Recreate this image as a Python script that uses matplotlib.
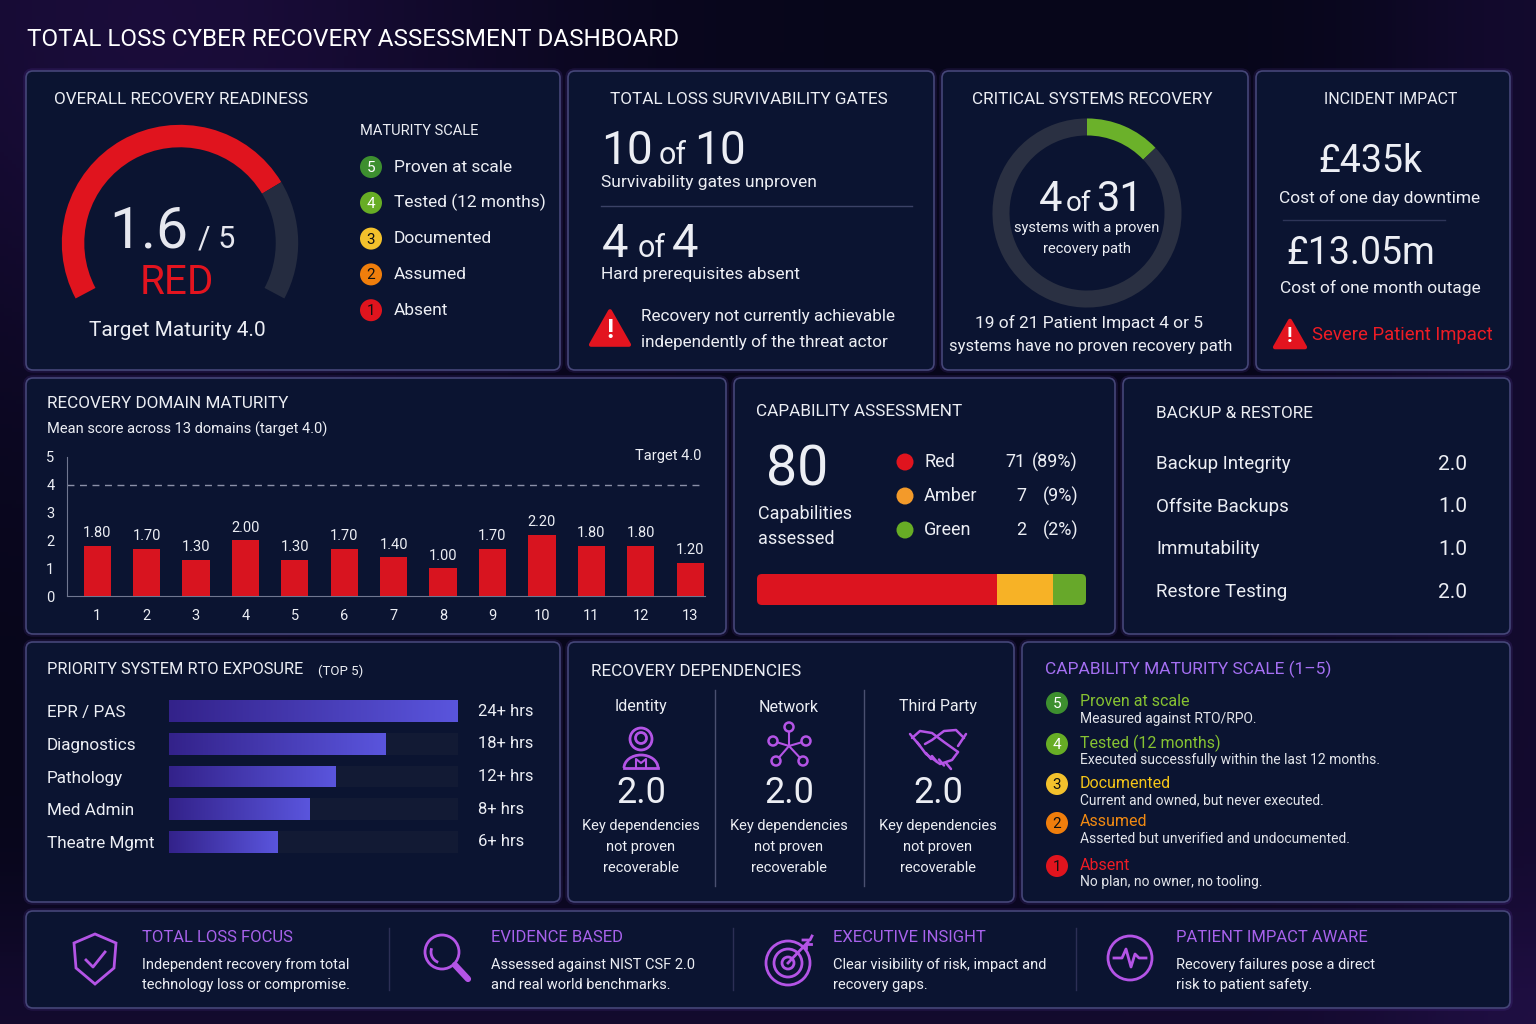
import numpy as np
import matplotlib.pyplot as plt
from matplotlib.patches import FancyBboxPatch, Polygon, Circle, Arc
from matplotlib.colors import LinearSegmentedColormap

plt.rcParams['font.family'] = ['Roboto', 'DejaVu Sans']

W, H = 1536, 1024

# ---- data ----
gauge_score = 1.6
gauge_max = 5
gauge_target = 4.0
gauge_shares = [0.75, 0.25]   # red / grey split of the arc as drawn
gauge_span = 236              # degrees of arc

level_nums = [5, 4, 3, 2, 1]
level_names = ["Proven at scale", "Tested (12 months)", "Documented", "Assumed", "Absent"]
level_desc = ["Measured against RTO/RPO.",
              "Executed successfully within the last 12 months.",
              "Current and owned, but never executed.",
              "Asserted but unverified and undocumented.",
              "No plan, no owner, no tooling."]
level_colors = ["#3d8f2f", "#67ad25", "#f3c12c", "#f07e0c", "#e0141e"]
level_text_colors = ["#86c232", "#86c232", "#f5c518", "#f28a12", "#ee1c25"]

gates_unproven, gates_total = 10, 10
prereq_absent, prereq_total = 4, 4

systems_proven, systems_total = 4, 31

domains = list(range(1, 14))
domain_scores = [1.80, 1.70, 1.30, 2.00, 1.30, 1.70, 1.40, 1.00, 1.70, 2.20, 1.80, 1.80, 1.20]
domain_target = 4.0

cap_total = 80
cap_labels = ["Red", "Amber", "Green"]
cap_counts = [71, 7, 2]
cap_pcts = [89, 9, 2]
cap_strip = [73, 17, 10]      # segment widths as drawn
cap_colors = ["#e0141e", "#f39a2a", "#67ad25"]
cap_strip_colors = ["#dc141f", "#f7b226", "#67a82a"]

backup_items = ["Backup Integrity", "Offsite Backups", "Immutability", "Restore Testing"]
backup_scores = [2.0, 1.0, 1.0, 2.0]

rto_systems = ["EPR / PAS", "Diagnostics", "Pathology", "Med Admin", "Theatre Mgmt"]
rto_hours = [24, 18, 12, 8, 6]
rto_fill = [1.0, 0.75, 0.575, 0.485, 0.375]   # bar lengths as drawn

dep_names = ["Identity", "Network", "Third Party"]
dep_scores = [2.0, 2.0, 2.0]

footer_titles = ["TOTAL LOSS FOCUS", "EVIDENCE BASED", "EXECUTIVE INSIGHT", "PATIENT IMPACT AWARE"]
footer_lines = [["Independent recovery from total", "technology loss or compromise."],
                ["Assessed against NIST CSF 2.0", "and real world benchmarks."],
                ["Clear visibility of risk, impact and", "recovery gaps."],
                ["Recovery failures pose a direct", "risk to patient safety."]]

# ---- style ----
BG = "#07061a"
PANEL = "#0b1431"
EDGE = "#454678"
TEXT = "#eceef4"
PURPLE = "#a862ec"
ICON = "#b454e6"

fig = plt.figure(figsize=(W / 100, H / 100), dpi=100, facecolor=BG)
bg = fig.add_axes([0, 0, 1, 1])
bg.set_xlim(0, W)
bg.set_ylim(H, 0)
bg.axis("off")

# soft purple glow in the background
yy, xx = np.mgrid[0:H:4, 0:W:4]
glow = np.exp(-((xx - 150) ** 2 + (yy - 20) ** 2) / (2 * 260.0 ** 2)) * 0.8
glow += np.exp(-((yy - 1024) ** 2) / (2 * 90.0 ** 2)) * 0.5
glow += np.exp(-((xx - 1536) ** 2) / (2 * 120.0 ** 2)) * 0.5
glow_cmap = LinearSegmentedColormap.from_list("glow", [BG, "#24104a"])
bg.imshow(glow, extent=[0, W, H, 0], cmap=glow_cmap, vmin=0, vmax=1.2, zorder=0, aspect="auto")


def px_axes(x0, y0, x1, y1):
    return fig.add_axes([x0 / W, 1 - y1 / H, (x1 - x0) / W, (y1 - y0) / H])


def panel(x0, y0, x1, y1):
    bg.add_patch(FancyBboxPatch((x0, y0), x1 - x0, y1 - y0,
                                boxstyle="round,pad=0,rounding_size=7",
                                fc="none", ec="#7d55e0", lw=4, alpha=0.12, zorder=1))
    bg.add_patch(FancyBboxPatch((x0, y0), x1 - x0, y1 - y0,
                                boxstyle="round,pad=0,rounding_size=7",
                                fc=PANEL, ec=EDGE, lw=1.2, zorder=1))


def txt(x, y, s, size, color=TEXT, ha="left", va="center", **kw):
    bg.text(x, y, s, fontsize=size, color=color, ha=ha, va=va, zorder=5, **kw)


def warning(x, y, s=40):
    h = s * 0.88
    bg.add_patch(Polygon([(x, y - h / 2), (x + s / 2, y + h / 2), (x - s / 2, y + h / 2)],
                         closed=True, fc="#e3141f", ec="#e3141f", lw=3, joinstyle="round", zorder=5))
    txt(x, y + h * 0.1, "!", s * 0.5, color="white", ha="center", fontweight="bold")


def level_badge(x, y, n, color, r=11, size=11):
    bg.add_patch(Circle((x, y), r, fc=color, ec="none", zorder=5))
    txt(x, y + 1, str(n), size, color="#111" if n in (1, 2, 3) else "white", ha="center")


# ---- header ----
txt(27, 40, "TOTAL LOSS CYBER RECOVERY ASSESSMENT DASHBOARD", 17.5, color="white")

# ---- panels ----
for box in [(26, 71, 560, 370), (568, 71, 934, 370), (942, 71, 1248, 370), (1256, 71, 1510, 370),
            (26, 378, 726, 634), (734, 378, 1115, 634), (1123, 378, 1510, 634),
            (26, 642, 560, 902), (568, 642, 1014, 902), (1022, 642, 1510, 902),
            (26, 911, 1510, 1008)]:
    panel(*box)

# ---- overall recovery readiness ----
txt(54, 99, "OVERALL RECOVERY READINESS", 12.3)
gax = px_axes(180 - 130, 243 - 130, 180 + 130, 243 + 130)
arc_vals = [gauge_shares[0] * gauge_span, gauge_shares[1] * gauge_span, 360 - gauge_span]
gax.pie(arc_vals, colors=["#e0141e", "#252c40", "none"], startangle=180 + (gauge_span - 180) / 2,
        counterclock=False, radius=1.0, wedgeprops=dict(width=0.19, edgecolor="none"))
gax.set_xlim(-1.1, 1.1)
gax.set_ylim(-1.1, 1.1)
gax.set_aspect("equal")
gax.axis("off")
txt(188, 248, f"{gauge_score:.1f}", 41, ha="right", va="baseline", color="#e6e7ee")
txt(198, 248, f"/ {gauge_max}", 22, va="baseline", color="#e6e7ee")
txt(177, 294, "RED", 29, color="#e3141f", ha="center", va="baseline")
txt(177, 331, f"Target Maturity {gauge_target:.1f}", 15, ha="center")

txt(360, 131, "MATURITY SCALE", 10.5)
for i, (n, name, c) in enumerate(zip(level_nums, level_names, level_colors)):
    y = 167 + i * 35.8
    level_badge(371, y, n, c)
    txt(394, y, name, 12.5)

# ---- survivability gates ----
txt(610, 99, "TOTAL LOSS SURVIVABILITY GATES", 12.3)
txt(601, 164, f"{gates_unproven}", 33, va="baseline")
txt(659, 164, "of", 22, va="baseline")
txt(694, 164, f"{gates_total}", 33, va="baseline")
txt(601, 183, "Survivability gates unproven", 12.5)
bg.plot([601, 912], [206, 206], color="#3b4266", lw=1, zorder=4)
txt(602, 257, f"{prereq_absent}", 34, va="baseline")
txt(638, 257, "of", 22, va="baseline")
txt(672, 257, f"{prereq_total}", 34, va="baseline")
txt(601, 275, "Hard prerequisites absent", 12.5)
warning(610, 328, 38)
txt(641, 317, "Recovery not currently achievable", 12.3)
txt(641, 342, "independently of the threat actor", 12.3)

# ---- critical systems recovery ----
txt(1092, 99, "CRITICAL SYSTEMS RECOVERY", 12.3, ha="center")
dax = px_axes(1087 - 104, 213 - 104, 1087 + 104, 213 + 104)
dax.pie([systems_proven, systems_total - systems_proven], colors=["#6bb12a", "#2a3042"],
        startangle=90, counterclock=False, radius=1.0, wedgeprops=dict(width=0.18, edgecolor="none"))
dax.set_xlim(-1.1, 1.1)
dax.set_ylim(-1.1, 1.1)
dax.set_aspect("equal")
txt(1062, 211, f"{systems_proven}", 30, ha="right", va="baseline")
txt(1079, 211, "of", 20, ha="center", va="baseline")
txt(1096, 211, f"{systems_total}", 30, va="baseline")
txt(1087, 228, "systems with a proven", 10.5, ha="center")
txt(1087, 249, "recovery path", 10.5, ha="center")
txt(1089, 323, "19 of 21 Patient Impact 4 or 5", 12.5, ha="center")
txt(1091, 346, "systems have no proven recovery path", 12, ha="center")

# ---- incident impact ----
txt(1391, 99, "INCIDENT IMPACT", 11.5, ha="center")
txt(1370, 162, "£435k", 27, ha="center")
txt(1380, 198, "Cost of one day downtime", 12.5, ha="center")
bg.plot([1283, 1445], [220, 220], color="#2e3558", lw=1, zorder=4)
txt(1361, 253, "£13.05m", 27, ha="center")
txt(1380, 288, "Cost of one month outage", 12.5, ha="center")
warning(1290, 334, 30)
txt(1312, 335, "Severe Patient Impact", 13.3, color="#ee1c25")

# ---- recovery domain maturity ----
txt(47, 404, "RECOVERY DOMAIN MATURITY", 12.3)
txt(47, 429, "Mean score across 13 domains (target 4.0)", 10.5)
bax = px_axes(67, 457, 705, 596)
bax.set_facecolor("none")
bars = bax.bar(domains, domain_scores, width=0.55, color="#d8141f", zorder=3)
bax.bar_label(bars, labels=[f"{v:.2f}" for v in domain_scores], padding=4, color=TEXT, fontsize=10.5)
bax.axhline(domain_target, color="#8b90a8", lw=1, ls=(0, (5, 4)))
bax.text(0.995, 1.01, f"Target {domain_target:.1f}", transform=bax.transAxes, ha="right", va="center",
         color=TEXT, fontsize=10.5)
bax.set_xlim(0.39, 13.3)
bax.set_ylim(0, 5)
bax.set_xticks(domains)
bax.set_yticks(range(0, 6))
bax.tick_params(colors=TEXT, labelsize=10.5, length=0, pad=9)
for s in ["top", "right"]:
    bax.spines[s].set_visible(False)
for s in ["left", "bottom"]:
    bax.spines[s].set_color("#707790")

# ---- capability assessment ----
txt(756, 412, "CAPABILITY ASSESSMENT", 12.3)
txt(766, 470, f"{cap_total}", 40)
txt(758, 514, "Capabilities", 13)
txt(758, 539, "assessed", 13)
for i, (lab, n, p, c) in enumerate(zip(cap_labels, cap_counts, cap_pcts, cap_colors)):
    y = 462 + i * 34
    bg.add_patch(Circle((905, y), 8.5, fc=c, ec="none", zorder=5))
    txt(924, y, lab, 13)
    txt(1026, y, f"{n}", 13, ha="right")
    txt(1078, y, f"({p}%)", 13, ha="right")
sax = px_axes(757, 574, 1086, 605)
sax.axis("off")
clip = FancyBboxPatch((757, 574), 329, 31, boxstyle="round,pad=0,rounding_size=5",
                      transform=bg.transData, fc="none", ec="none")
left = 0
for v, c in zip(cap_strip, cap_strip_colors):
    seg = sax.barh(0, v, left=left, height=1, color=c)
    for r in seg:
        r.set_clip_path(clip)
    left += v
sax.set_xlim(0, sum(cap_strip))
sax.set_ylim(-0.5, 0.5)

# ---- backup & restore ----
txt(1156, 413, "BACKUP & RESTORE", 12.3)
for i, (name, v) in enumerate(zip(backup_items, backup_scores)):
    y = 464 + i * 42.7
    txt(1156, y, name, 13.5)
    txt(1467, y, f"{v:.1f}", 15, ha="right")

# ---- RTO exposure ----
txt(47, 670, "PRIORITY SYSTEM RTO EXPOSURE", 11.8)
txt(318, 671, "(TOP 5)", 9.5)
rax = px_axes(169, 695, 458, 858)
rax.set_facecolor("none")
rows = np.arange(len(rto_systems))
rax.barh(rows, [1.0] * len(rows), height=0.67, color="#121a34")
grad = np.linspace(0, 1, 256).reshape(1, -1)
grad_cmap = LinearSegmentedColormap.from_list("rto", ["#33228a", "#5a55dd"])
fills = rax.barh(rows, rto_fill, height=0.67, color="#4a3cb8")
for r, f in zip(fills, rto_fill):
    y0 = r.get_y()
    im = rax.imshow(grad, extent=[0, f, y0, y0 + r.get_height()], cmap=grad_cmap, aspect="auto", zorder=3)
    im.set_clip_path(r)
for i, h in enumerate(rto_hours):
    rax.text(1.07, i, f"{h}+ hrs", ha="left", va="center", color=TEXT, fontsize=12)
rax.set_xlim(0, 1)
rax.set_ylim(len(rows) - 0.5, -0.5)
rax.set_yticks(rows)
rax.set_yticklabels(rto_systems, ha="left")
rax.tick_params(axis="y", colors=TEXT, labelsize=12.3, length=0, pad=88)
rax.set_xticks([])
for s in rax.spines.values():
    s.set_visible(False)

# ---- recovery dependencies ----
txt(591, 671, "RECOVERY DEPENDENCIES", 12.3)
dep_x = [641, 789, 938]
for x in [715, 864]:
    bg.plot([x, x], [690, 886], color="#4a5070", lw=1, zorder=4)
for x, name, v in zip(dep_x, dep_names, dep_scores):
    txt(x, 707, name, 11.5, ha="center")
    txt(x, 793, f"{v:.1f}", 26, ha="center")
    txt(x, 826, "Key dependencies", 10.5, ha="center")
    txt(x, 847, "not proven", 10.5, ha="center")
    txt(x, 868, "recoverable", 10.5, ha="center")
# identity icon
bg.add_patch(Circle((641, 739), 11, fc="none", ec=ICON, lw=2, zorder=5))
bg.add_patch(Circle((641, 738), 5.5, fc="none", ec=ICON, lw=2, zorder=5))
bg.add_patch(Arc((641, 768), 34, 26, theta1=180, theta2=360, ec=ICON, lw=2, zorder=5))
bg.plot([624, 658], [768, 768], color=ICON, lw=2, zorder=5)
bg.plot([636, 636, 641, 646, 646], [767, 759, 763, 759, 767], color=ICON, lw=1.5, zorder=5)
# network icon
nodes = [(789, 727), (773, 741), (806, 741), (776, 761), (803, 761)]
for nx_, ny_ in nodes:
    bg.plot([789, nx_], [746, ny_], color=ICON, lw=1.5, zorder=5)
    bg.add_patch(Circle((nx_, ny_), 4.5, fc=PANEL, ec=ICON, lw=1.8, zorder=6))
# handshake icon
hs = dict(color=ICON, lw=1.8, zorder=5, solid_capstyle="round")
bg.plot([912, 920, 932, 944, 958], [738, 731, 733, 742, 752], **hs)
bg.plot([964, 956, 944, 932, 925], [738, 730, 731, 740, 744], **hs)
bg.plot([917, 926, 940, 952, 958], [742, 754, 764, 760, 752], **hs)
for fx in [926, 932, 939, 946]:
    bg.plot([fx, fx + 5], [753 + (fx - 926) * 0.5, 759 + (fx - 926) * 0.5], **hs)
bg.plot([910, 920], [734, 746], **hs)
bg.plot([966, 958], [734, 746], **hs)

# ---- capability maturity scale ----
txt(1045, 669, "CAPABILITY MATURITY SCALE (1–5)", 12.5, color="#a46ff2")
scale_y = [703, 744, 784, 823, 866]
for y, n, name, desc, c, tc in zip(scale_y, level_nums, level_names, level_desc, level_colors, level_text_colors):
    level_badge(1057, y, n, c)
    txt(1080, y - 1, name, 11.5, color=tc)
    txt(1080, y + 16, desc, 10, color="#e2e4ea")

# ---- footer strip ----
foot_x = [142, 491, 833, 1176]
for x in [389, 733, 1076]:
    bg.plot([x, x], [928, 990], color="#2c2f55", lw=1, zorder=4)
for x, t, lines in zip(foot_x, footer_titles, footer_lines):
    txt(x, 937, t, 12, color=PURPLE)
    txt(x, 965, lines[0], 10.5)
    txt(x, 985, lines[1], 10.5)
ic = dict(color=ICON, lw=2, zorder=5, solid_joinstyle="round")
# shield
bg.add_patch(Polygon([(95, 934), (116, 943), (114, 968), (95, 984), (76, 968), (74, 943)],
                     closed=True, fc="none", ec=ICON, lw=2, zorder=5))
bg.plot([86, 93, 105], [960, 967, 952], **ic)
# magnifier
bg.add_patch(Circle((442, 952), 17, fc="none", ec=ICON, lw=2, zorder=5))
bg.add_patch(Arc((442, 952), 22, 22, theta1=110, theta2=200, ec=ICON, lw=2, zorder=5))
bg.plot([455, 468], [965, 979], color=ICON, lw=4.5, zorder=5, solid_capstyle="round")
# target
for rr in [22, 14]:
    bg.add_patch(Circle((788, 963), rr, fc="none", ec=ICON, lw=2, zorder=5))
bg.add_patch(Circle((788, 963), 6, fc="none", ec=ICON, lw=2, zorder=5))
bg.plot([788, 808], [963, 942], **ic)
bg.plot([803, 810, 812], [940, 940, 936], **ic)
bg.plot([806, 806, 811], [948, 944, 944], **ic)
# pulse
bg.add_patch(Circle((1130, 958), 22, fc="none", ec=ICON, lw=2, zorder=5))
bg.plot([1114, 1122, 1126, 1131, 1135, 1139, 1146], [958, 958, 949, 967, 954, 958, 958], **ic)

fig.savefig("out.png", dpi=100, facecolor=BG)
